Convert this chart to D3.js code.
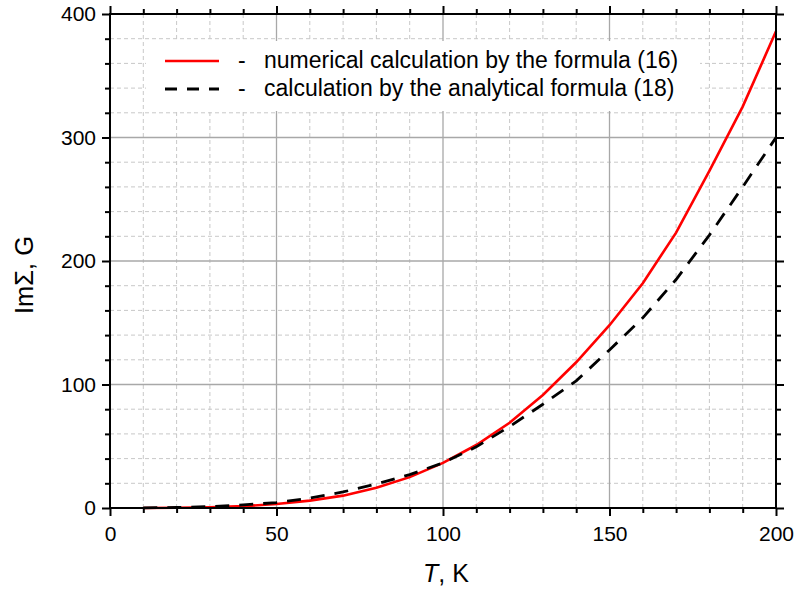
<html lang="en">
<head>
    <meta charset="UTF-8">
    <title>Im Sigma vs T</title>
    <script src="https://d3js.org/d3.v7.min.js"></script>
    <style>
        body { margin: 0; background: #fff; }
        text { font-family: "Liberation Sans", Arial, sans-serif; fill: #000; }
    </style>
</head>
<body>
    <div id="chart"></div>
    <script>
        // values
        var temps = [10, 20, 30, 40, 50, 60, 70, 80, 90, 100, 110, 120, 130, 140, 150, 160, 170, 180, 190, 200];
        var numerical = [0.05, 0.2, 0.6, 1.5, 3.2, 6, 10, 16.4, 25, 36.5, 51, 69, 91.5, 118, 148, 182, 223, 273, 325, 386];
        var analytical = [0.1, 0.4, 1.1, 2.5, 4.4, 8, 13, 19.4, 27, 36.5, 49.5, 66, 84, 103, 128, 154, 185, 221, 260, 300];
        var xTicks = [0, 50, 100, 150, 200];
        var yTicks = [0, 100, 200, 300, 400];
        var legendLabels = ["numerical calculation by the formula (16)", "calculation by the analytical formula (18)"];

        var width = 797, height = 592;
        var pLeft = 110, pRight = 776, pTop = 14, pBottom = 508;
        var majorLen = 8, minorLen = 5;

        var svg = d3.select("#chart").append("svg")
            .attr("width", width)
            .attr("height", height);

        var xScale = d3.scaleLinear().domain([0, 200]).range([pLeft, pRight]);
        var yScale = d3.scaleLinear().domain([0, 400]).range([pBottom, pTop]);

        var xMinor = d3.range(0, 201, 10).filter(function(d){ return xTicks.indexOf(d) < 0; });
        var yMinor = d3.range(0, 401, 20).filter(function(d){ return yTicks.indexOf(d) < 0; });

        // grid
        var grid = svg.append("g");
        grid.selectAll(".gxm").data(xMinor).enter().append("line")
            .attr("x1", xScale).attr("x2", xScale).attr("y1", pTop).attr("y2", pBottom)
            .attr("stroke", "#c8c8c8").attr("stroke-dasharray", "4,3");
        grid.selectAll(".gym").data(yMinor).enter().append("line")
            .attr("y1", yScale).attr("y2", yScale).attr("x1", pLeft).attr("x2", pRight)
            .attr("stroke", "#c8c8c8").attr("stroke-dasharray", "4,3");
        grid.selectAll(".gx").data(xTicks.slice(1, -1)).enter().append("line")
            .attr("x1", xScale).attr("x2", xScale).attr("y1", pTop).attr("y2", pBottom)
            .attr("stroke", "#a8a8a8").attr("stroke-width", 1.3);
        grid.selectAll(".gy").data(yTicks.slice(1, -1)).enter().append("line")
            .attr("y1", yScale).attr("y2", yScale).attr("x1", pLeft).attr("x2", pRight)
            .attr("stroke", "#a8a8a8").attr("stroke-width", 1.3);

        // legend background hides the grid
        svg.append("rect")
            .attr("x", 146).attr("y", 41).attr("width", 554).attr("height", 70)
            .attr("fill", "#fff");

        // curves
        var line = function(vals) {
            return d3.line()
                .x(function(d, i){ return xScale(temps[i]); })
                .y(function(d){ return yScale(d); })(vals);
        };
        svg.append("path").attr("d", line(numerical))
            .attr("fill", "none").attr("stroke", "#ff0000").attr("stroke-width", 2.6);
        svg.append("path").attr("d", line(analytical))
            .attr("fill", "none").attr("stroke", "#000").attr("stroke-width", 2.8)
            .attr("stroke-dasharray", "14,10");

        // axes with ticks outside on all four sides
        function drawAxis(g, axis) {
            g.call(axis);
            g.select(".domain").remove();
            g.selectAll("line").attr("stroke", "#000").attr("stroke-width", 2);
        }
        var tickFont = "21px";

        var bottomAxis = svg.append("g").attr("transform", "translate(0," + pBottom + ")");
        drawAxis(bottomAxis, d3.axisBottom(xScale).tickValues(xTicks).tickSize(majorLen).tickPadding(10));
        bottomAxis.selectAll("text").style("font-size", tickFont);
        svg.append("g").attr("transform", "translate(0," + pBottom + ")")
            .call(function(g){ drawAxis(g, d3.axisBottom(xScale).tickValues(xMinor).tickSize(minorLen).tickFormat("")); });

        var topAxis = svg.append("g").attr("transform", "translate(0," + pTop + ")");
        drawAxis(topAxis, d3.axisTop(xScale).tickValues(xTicks).tickSize(majorLen).tickFormat(""));
        svg.append("g").attr("transform", "translate(0," + pTop + ")")
            .call(function(g){ drawAxis(g, d3.axisTop(xScale).tickValues(xMinor).tickSize(minorLen).tickFormat("")); });

        var leftAxis = svg.append("g").attr("transform", "translate(" + pLeft + ",0)");
        drawAxis(leftAxis, d3.axisLeft(yScale).tickValues(yTicks).tickSize(majorLen).tickPadding(6));
        leftAxis.selectAll("text").style("font-size", tickFont);
        svg.append("g").attr("transform", "translate(" + pLeft + ",0)")
            .call(function(g){ drawAxis(g, d3.axisLeft(yScale).tickValues(yMinor).tickSize(minorLen).tickFormat("")); });

        var rightAxis = svg.append("g").attr("transform", "translate(" + pRight + ",0)");
        drawAxis(rightAxis, d3.axisRight(yScale).tickValues(yTicks).tickSize(majorLen).tickFormat(""));
        svg.append("g").attr("transform", "translate(" + pRight + ",0)")
            .call(function(g){ drawAxis(g, d3.axisRight(yScale).tickValues(yMinor).tickSize(minorLen).tickFormat("")); });

        // frame
        svg.append("rect")
            .attr("x", pLeft).attr("y", pTop).attr("width", pRight - pLeft).attr("height", pBottom - pTop)
            .attr("fill", "none").attr("stroke", "#000").attr("stroke-width", 2);

        // axis titles
        var xt = svg.append("text").attr("x", 446).attr("y", 582)
            .attr("text-anchor", "middle").style("font-size", "25px");
        xt.append("tspan").style("font-style", "italic").text("T");
        xt.append("tspan").text(", K");

        svg.append("text")
            .attr("transform", "translate(33,275) rotate(-90)")
            .attr("text-anchor", "middle").style("font-size", "25.5px")
            .text("Im\u03A3, G");

        // legend
        var legend = svg.append("g");
        var legendY = [61, 89];
        legend.append("line").attr("x1", 165).attr("x2", 219).attr("y1", legendY[0]).attr("y2", legendY[0])
            .attr("stroke", "#ff0000").attr("stroke-width", 2.6);
        legend.append("line").attr("x1", 165).attr("x2", 219).attr("y1", legendY[1]).attr("y2", legendY[1])
            .attr("stroke", "#000").attr("stroke-width", 2.8).attr("stroke-dasharray", "12,10");
        legend.selectAll(".dash").data(legendLabels).enter().append("text")
            .attr("x", 238).attr("y", function(d, i){ return legendY[i] + 7; })
            .style("font-size", "23px").text("-");
        legend.selectAll(".lab").data(legendLabels).enter().append("text")
            .attr("x", 264).attr("y", function(d, i){ return legendY[i] + 7; })
            .style("font-size", "23px").text(function(d){ return d; });
    </script>
</body>
</html>
